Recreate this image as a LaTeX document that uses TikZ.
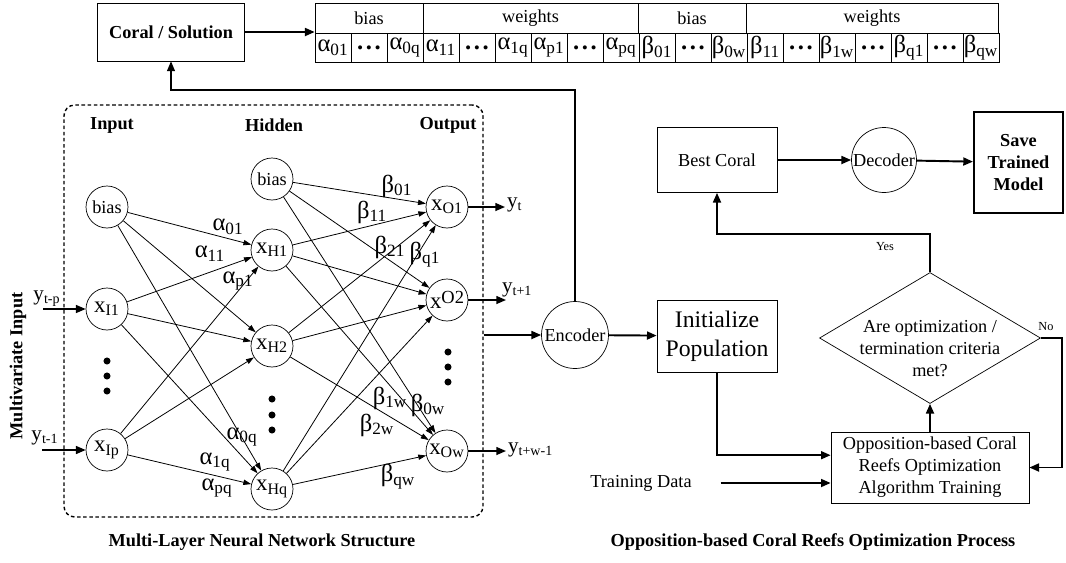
\documentclass[tikz,border=0pt]{standalone}
\usepackage{fontspec}
\setmainfont{Liberation Serif}
\usetikzlibrary{arrows.meta,shapes.geometric}

\newcommand{\xn}[1]{{\fontsize{13}{13}\selectfont x\textsubscript{#1}}}
\newcommand{\yv}[1]{{\fontsize{12}{12}\selectfont y\textsubscript{#1}}}
\newcommand{\dd}{\textbf{.\kern1.5pt.\kern1.5pt.}}

\begin{document}
\begin{tikzpicture}[x=0.02cm, y=-0.02cm, >={Triangle[length=5.5pt,width=4.5pt]},
  every node/.append style={font=\fontsize{10.4}{12.5}\selectfont},
  neuron/.style={draw, circle, minimum size=0.84cm, inner sep=0pt},
  link/.style={-{Triangle[length=4.5pt,width=3pt]}, line width=0.45pt},
  flow/.style={->, line width=1.1pt},
  box/.style={draw, align=center, inner sep=2pt},
  head/.style={draw, minimum height=0.6cm, inner sep=0pt},
  cell/.style={draw, minimum width=0.72cm, minimum height=0.58cm, inner sep=0pt, font=\fontsize{14}{14}\selectfont},
  wlab/.style={inner sep=0pt, font=\fontsize{14}{14}\selectfont},
  bold/.style={font=\fontsize{10.4}{12.5}\selectfont\bfseries}]
\useasboundingbox (0,0) rectangle (1066,562);

% coral encoding
\node[box, minimum width=2.93cm, minimum height=1.16cm, bold] (coral) at (171,32) {Coral / Solution};
\node[head, minimum width=2.16cm] (hb1) at (369,18) {bias};
\node[head, minimum width=4.3cm] (hw1) at (530.5,18) {weights};
\node[head, minimum width=2.16cm] (hb2) at (692,18) {bias};
\node[head, minimum width=5.04cm] (hw2) at (872,18) {weights};
\foreach \t [count=\i] in {α\textsubscript{01}, \dd, α\textsubscript{0q}, α\textsubscript{11}, \dd, α\textsubscript{1q},
    α\textsubscript{p1}, \dd, α\textsubscript{pq}, β\textsubscript{01}, \dd, β\textsubscript{0w}, β\textsubscript{11}, \dd,
    β\textsubscript{1w}, \dd, β\textsubscript{q1}, \dd, β\textsubscript{qw}}
  \node[cell] (c\i) at ({315+36*\i-18},47.5) {\t};
\draw[flow] (coral.east) -- (coral.east -| hb1.west);

% network
\node[draw, dash pattern=on 2pt off 1.5pt, line width=0.8pt, rounded corners=6pt,
  minimum width=8.38cm, minimum height=8.24cm] (net) at (273.5,311) {};
\node[bold] (lin) at (112,125) {Input};
\node[bold] (lhid) at (274,125) {Hidden};
\node[bold] (lout) at (448,125) {Output};
\node[bold, rotate=90] (lmulti) at (18,366) {Multivariate Input};

\node[neuron] (ib) at (107,207) {bias};
\node[neuron] (i1) at (107,309) {\xn{I1}};
\node[neuron] (ip) at (107,450) {\xn{Ip}};
\node[neuron] (hb) at (272,179) {bias};
\node[neuron] (h1) at (272,250) {\xn{H1}};
\node[neuron] (h2) at (272,346) {\xn{H2}};
\node[neuron] (hq) at (272,489) {\xn{Hq}};
\node[neuron] (o1) at (447,207) {\xn{O1}};
\node[neuron] (o2) at (447,300) {{\fontsize{13}{13}\selectfont\raisebox{-3pt}{x}{\fontsize{10.5}{10.5}\selectfont O2}}};
\node[neuron] (ow) at (447,451) {\xn{Ow}};
\foreach \y in {361,376,391} \fill (107,\y) circle (2pt);
\foreach \y in {399,415,430} \fill (272,\y) circle (2pt);
\foreach \y in {352,367,382} \fill (448,\y) circle (2pt);

\foreach \a in {ib,i1,ip}
  \foreach \b in {h1,h2,hq}
    \draw[link] (\a) -- (\b);
\foreach \a in {hb,h1,h2,hq}
  \foreach \b in {o1,o2,ow}
    \draw[link] (\a) -- (\b);

\node[wlab] (a01) at (228,227) {α\textsubscript{01}};
\node[wlab] (a11) at (210,254) {α\textsubscript{11}};
\node[wlab] (ap1) at (238,281) {α\textsubscript{p1}};
\node[wlab] (a0q) at (242,437) {α\textsubscript{0q}};
\node[wlab] (a1q) at (215,462) {α\textsubscript{1q}};
\node[wlab] (apq) at (217,488) {α\textsubscript{pq}};
\node[wlab] (b01) at (397,186) {β\textsubscript{01}};
\node[wlab] (b11) at (372,212) {β\textsubscript{11}};
\node[wlab] (b21) at (390,247) {β\textsubscript{21}};
\node[wlab] (bq1) at (425,255) {β\textsubscript{q1}};
\node[wlab] (b1w) at (390,398) {β\textsubscript{1w}};
\node[wlab] (b0w) at (428,405) {β\textsubscript{0w}};
\node[wlab] (b2w) at (377,425) {β\textsubscript{2w}};
\node[wlab] (bqw) at (398,477) {β\textsubscript{qw}};

% inputs and outputs
\node (ytp) at (47,299) {\yv{t-p}};
\node (yt1m) at (45,438) {\yv{t-1}};
\coordinate (inp) at (43,309);
\coordinate (inq) at (42,450);
\draw[->, line width=0.9pt] (inp) -- (i1);
\draw[->, line width=0.9pt] (inq) -- (ip);
\node[anchor=west, inner sep=1pt] (yt) at (505,205) {\yv{t}};
\node[anchor=west, inner sep=1pt] (ytn) at (500,290) {\yv{t+1}};
\node[anchor=west, inner sep=1pt] (ytw) at (506,450) {\yv{t+w-1}};
\coordinate (e2) at (506,300);
\draw[->, line width=0.9pt] (o1) -- (o1 -| yt.west);
\draw[->, line width=0.9pt] (o2) -- (e2);
\draw[->, line width=0.9pt] (ow) -- (ow -| ytw.west);
\node[bold] (ttl1) at (262,542) {Multi-Layer Neural Network Structure};

% optimization process
\node[neuron, minimum size=1.34cm] (enc) at (575,335) {Encoder};
\coordinate (fb) at (575,90);
\draw[flow] (net.east |- enc) -- (enc);
\draw[->, line width=0.6pt] (enc) -- (fb) -| (coral);
\node[box, minimum width=2.4cm, minimum height=1.44cm, font=\fontsize{13.5}{16.4}\selectfont] (init) at (717,336) {Initialize\\Population};
\draw[flow] (enc) -- (init);
\node[box, minimum width=2.4cm, minimum height=1.3cm] (best) at (717,160) {Best Coral};
\node[neuron, minimum size=1.3cm] (dec) at (884,160) {Decoder};
\node[box, line width=1.2pt, minimum width=1.78cm, minimum height=2.02cm, bold] (save) at (1018.5,162.5) {Save\\Trained\\Model};
\draw[flow] (best) -- (dec);
\draw[flow] (dec) -- (save);
\node[draw, diamond, minimum width=4.42cm, minimum height=2.62cm, inner sep=0pt] (crit) at (930,338) {};
\node[align=center] (crittxt) at (930,349) {Are optimization /\\termination criteria\\met?};
\node[box, minimum width=3.96cm, minimum height=1.42cm] (train) at (930,467.5) {Opposition-based Coral\\Reefs Optimization\\Algorithm Training};
\node (tdata) at (641,483) {Training Data};
\draw[flow] (train) -- (crit);
\draw[flow] (crit.north) -- ++(0,-38) -| (best.south);
\draw[flow] (crit.east) -- ++(21,0) |- (train.east);
\draw[flow] (init) |- ([yshift=7pt]train.west);
\draw[flow] ([xshift=13pt]tdata.east) -- (tdata -| train.west);
\node[font=\fontsize{7}{7}\selectfont] (yes) at (885,247) {Yes};
\node[font=\fontsize{7}{7}\selectfont] (no) at (1046,327) {No};
\node[bold] (ttl2) at (813,542) {Opposition-based Coral Reefs Optimization Process};
\end{tikzpicture}
\end{document}
